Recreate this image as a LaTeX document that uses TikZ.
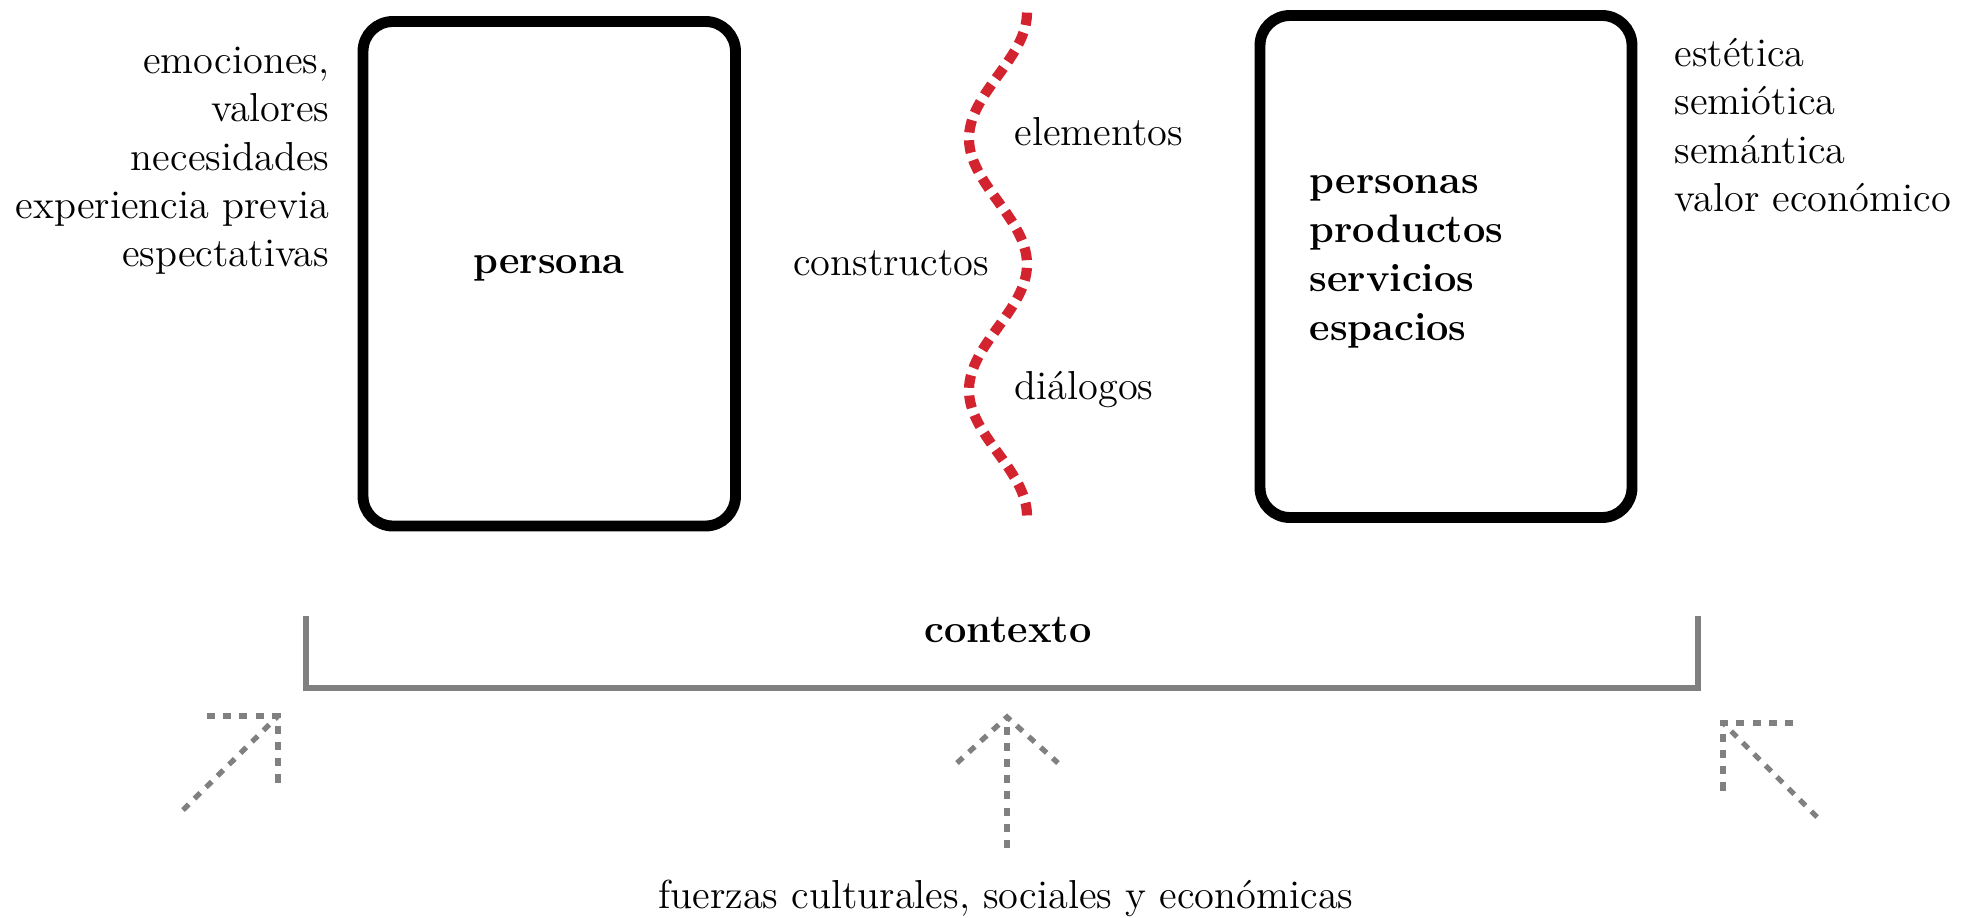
\documentclass[tikz,border=0pt]{standalone}
\usepackage{tikz}
\usetikzlibrary{positioning}

\definecolor{wavered}{RGB}{211,35,46}
\definecolor{ctxgray}{RGB}{128,128,128}

\begin{document}
\begin{tikzpicture}[x=0.01cm, y=-0.01cm,
    every node/.style={font=\fontsize{11.5}{13.75}\selectfont, inner sep=0pt},
    bold/.style={font=\fontsize{11.3}{13.9}\selectfont\bfseries},
    card/.style={draw, line width=3.1pt, rounded corners=8.5pt},
    wave/.style={draw=wavered, line width=2.9pt, dash pattern=on 3.6pt off 2.2pt},
    ctx/.style={draw=ctxgray, line width=1.6pt},
    force/.style={draw=ctxgray, line width=1.5pt, dash pattern=on 2.3pt off 2.3pt}]
    \useasboundingbox (0,0) rectangle (1975,918);

    % the two sides
    \draw[card] (363,21.5) rectangle (735.5,526);
    \node[bold] (persona) at (549,268) {persona};
    \node[anchor=east, align=right] (needs) at (330,161)
        {emociones,\\ valores\\ necesidades\\ experiencia previa\\ espectativas};

    \draw[card] (1260,15.5) rectangle (1632,517.5);
    \node[bold, anchor=west, align=left] (offer) at (1309,262)
        {personas\\ productos\\ servicios\\ espacios};
    \node[anchor=west, align=left] (qualities) at (1674,125)
        {estética\\ semiótica\\ semántica\\ valor económico};

    % the border between them
    \draw[wave] plot[domain=0:2, samples=81, smooth, variable=\t]
        ({998+29*cos(360*\t)}, {12.6+251.7*\t});
    \node[anchor=west] (elementos) at (1014,132) {elementos};
    \node[anchor=east] (constructos) at (990,263) {constructos};
    \node[anchor=west] (dialogos) at (1014,390) {diálogos};

    % context
    \draw[ctx] (306,616) -- (306,688) -- (1698,688) -- (1698,616);
    \node[bold] (contexto) at (1008,630) {contexto};

    % forces pushing on the context
    \coordinate (tipL) at (278,716);
    \coordinate (tailL) at (183,810);
    \draw[force] (tailL) -- (tipL);
    \draw[force] (207,716) -- (tipL) -- (278,787);

    \coordinate (tipM) at (1007,717);
    \coordinate (tailM) at (1007,848);
    \draw[force] (tailM) -- (tipM);
    \draw[force] (957,763) -- (tipM) -- (1058,763);

    \coordinate (tipR) at (1723,723);
    \coordinate (tailR) at (1817,817);
    \draw[force] (tailR) -- (tipR);
    \draw[force] (1793,723) -- (tipR) -- (1723,793);

    \node (fuerzas) at (1006,898) {fuerzas culturales, sociales y económicas};
\end{tikzpicture}
\end{document}
